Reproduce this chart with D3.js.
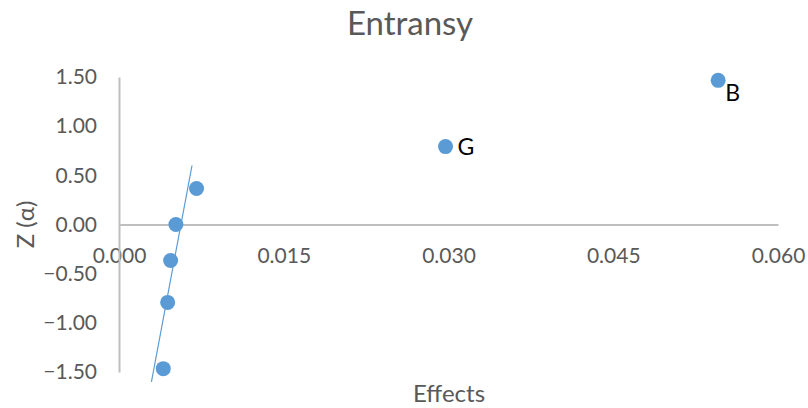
<!DOCTYPE html>
<html>
<head>
<meta charset="utf-8">
<script src="https://cdn.jsdelivr.net/npm/d3@7"></script>
<style>
  html, body { margin: 0; padding: 0; background: #fff; }
  svg text { font-family: "Lato", "Open Sans", "Liberation Sans", sans-serif; }
</style>
</head>
<body>
<svg id="chart" width="808" height="408"></svg>
<script>
// Normal probability plot of effects
const effects = [0.00403, 0.00443, 0.00470, 0.00518, 0.00706, 0.02973, 0.05455];
const zScores = [-1.466, -0.792, -0.366, 0.000, 0.366, 0.792, 1.466];
const pointLabels = ["", "", "", "", "", "G", "B"];

// reference line: effect = lineIntercept + lineSlope * z, drawn over zRange
const lineIntercept = 0.00564;
const lineSlope = 0.00168;
const lineZRange = [-1.6, 0.6];

const xTicks = [0.000, 0.015, 0.030, 0.045, 0.060];
const yTicks = [-1.5, -1.0, -0.5, 0.0, 0.5, 1.0, 1.5];

const svg = d3.select("#chart");
const x = d3.scaleLinear().domain([0, 0.060]).range([119, 778]);
const y = d3.scaleLinear().domain([-1.5, 1.5]).range([372, 77]);

const axisColor = "#bfbfbf";
const textColor = "#595959";

// Title
svg.append("text")
  .attr("x", 410).attr("y", 35)
  .attr("text-anchor", "middle")
  .attr("font-size", 33)
  .attr("fill", textColor)
  .text("Entransy");

// X axis along z = 0
const xAxis = svg.append("g")
  .attr("transform", `translate(0,${y(0)})`)
  .call(d3.axisBottom(x).tickValues(xTicks).tickFormat(d3.format(".3f")).tickSize(0).tickPadding(24));
xAxis.select(".domain").attr("stroke", axisColor).attr("stroke-width", 2);
xAxis.selectAll("text").attr("font-size", 21).attr("fill", textColor).attr("font-family", null);

// Y axis at effect = 0
const yAxis = svg.append("g")
  .attr("transform", `translate(${x(0)},0)`)
  .call(d3.axisLeft(y).tickValues(yTicks).tickFormat(d3.format(".2f")).tickSize(0).tickPadding(22));
yAxis.select(".domain").attr("stroke", axisColor).attr("stroke-width", 2);
yAxis.selectAll("text").attr("font-size", 21).attr("fill", textColor).attr("font-family", null);

// Axis titles
svg.append("text")
  .attr("x", 449).attr("y", 402)
  .attr("text-anchor", "middle")
  .attr("font-size", 24)
  .attr("fill", textColor)
  .text("Effects");

svg.append("text")
  .attr("transform", `translate(34,${y(0)}) rotate(-90)`)
  .attr("text-anchor", "middle")
  .attr("font-size", 24)
  .attr("fill", textColor)
  .text("Z (α)");

// Reference line
svg.append("line")
  .attr("x1", x(lineIntercept + lineSlope * lineZRange[0]))
  .attr("y1", y(lineZRange[0]))
  .attr("x2", x(lineIntercept + lineSlope * lineZRange[1]))
  .attr("y2", y(lineZRange[1]))
  .attr("stroke", "#5b9bd5")
  .attr("stroke-width", 1.2);

// Points
const pts = effects.map((e, i) => ({ e, z: zScores[i], label: pointLabels[i] }));
svg.append("g").selectAll("circle").data(pts).join("circle")
  .attr("cx", d => x(d.e))
  .attr("cy", d => y(d.z))
  .attr("r", 7.5)
  .attr("fill", "#5b9bd5");

// Point labels
const labelOffset = { G: [12, 8], B: [7, 21] };
svg.append("g").selectAll("text").data(pts.filter(d => d.label)).join("text")
  .attr("x", d => x(d.e) + labelOffset[d.label][0])
  .attr("y", d => y(d.z) + labelOffset[d.label][1])
  .attr("font-size", 23)
  .attr("fill", "#000")
  .text(d => d.label);
</script>
</body>
</html>
